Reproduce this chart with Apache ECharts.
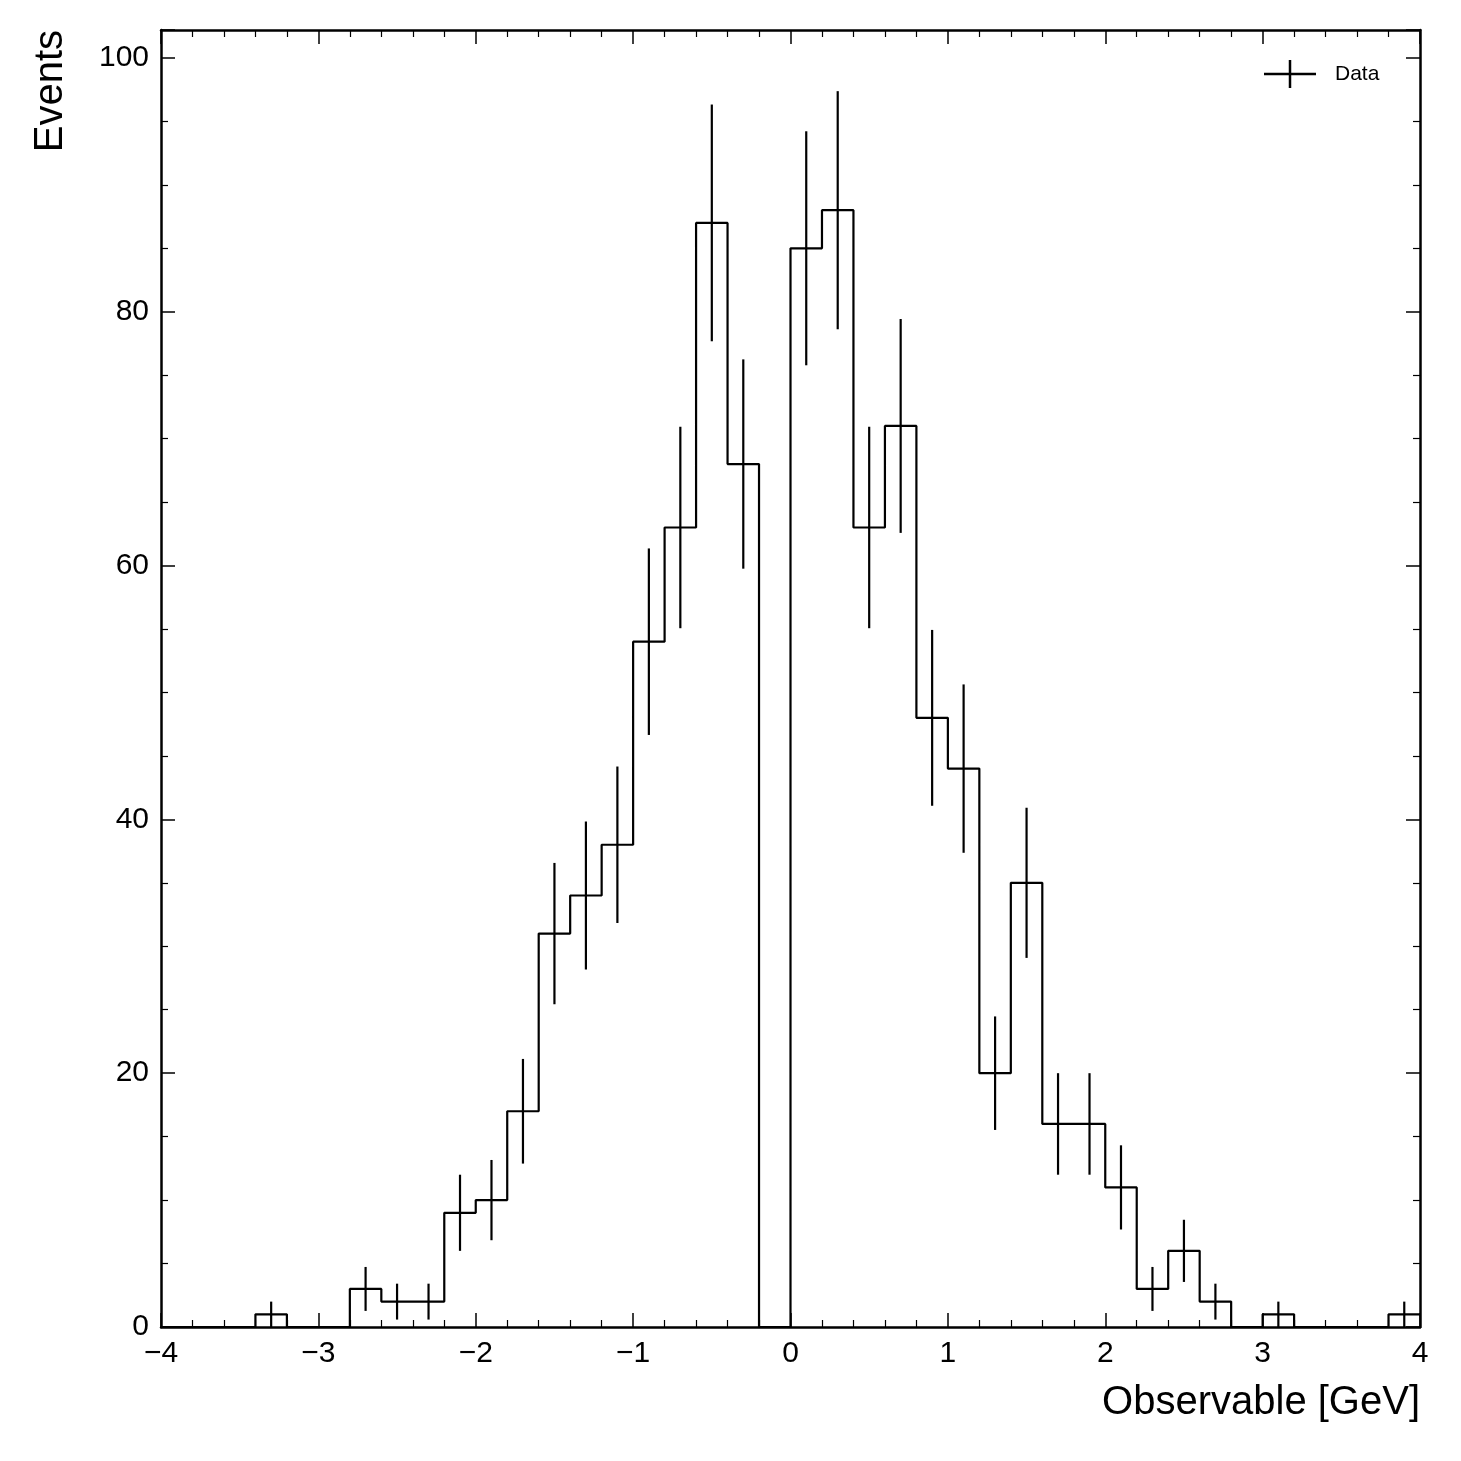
<!DOCTYPE html>
<html>
<head>
<meta charset="utf-8">
<script src="https://cdn.jsdelivr.net/npm/echarts@6/dist/echarts.min.js"></script>
<style>html,body{margin:0;padding:0;background:#fff}#main{width:1461px;height:1461px}</style>
</head>
<body>
<div id="main"></div>
<script>
// 直方图：40个bin，-4到4，宽0.2
var binLow = -4, binWidth = 0.2
var counts = [0,0,0,1,0,0,3,2,2,9,10,17,31,34,38,54,63,87,68,0,
              85,88,63,71,48,44,20,35,16,16,11,3,6,2,0,1,0,0,0,1]

// 阶梯线数据
var stepData = []
for (let i in counts) {
    stepData.push([binLow + i * binWidth, counts[i]])
}
stepData.push([binLow + counts.length * binWidth, counts[counts.length - 1]])

// 误差棒数据 [中心, 值, sqrt(N)]，零计数不画
var errData = []
for (let i in counts) {
    if (counts[i] > 0) {
        errData.push([binLow + (Number(i) + 0.5) * binWidth, counts[i], Math.sqrt(counts[i])])
    }
}

var font = 'Liberation Sans, Arial, sans-serif'
var axisLine = {show: true, onZero: false, lineStyle: {color: '#000', width: 2.5}}
var axisTick = {show: true, inside: true, length: 14, lineStyle: {color: '#000', width: 1.5}}

function minor(n) {
    return {show: true, splitNumber: n, length: 7, lineStyle: {color: '#000', width: 1.2}}
}

var myChart = echarts.init(document.getElementById('main'))
var option = {
    animation: false,
    grid: {left: 161, right: 41, top: 30, bottom: 134},
    xAxis: [
        {
            type: 'value', min: -4, max: 4, interval: 1, position: 'bottom',
            axisLine: axisLine, axisTick: axisTick, minorTick: minor(5), splitLine: {show: false},
            axisLabel: {color: '#000', fontSize: 30, fontFamily: font, margin: 12,
                formatter: function (v) { return String(v).replace('-', '\u2212') }},
            name: 'Observable [GeV]', nameLocation: 'end', nameGap: 0,
            nameTextStyle: {color: '#000', fontSize: 40, fontFamily: font, align: 'right', verticalAlign: 'top', padding: [56, 0, 0, 0]}
        },
        {
            type: 'value', min: -4, max: 4, interval: 1, position: 'top',
            axisLine: axisLine, axisTick: axisTick, minorTick: minor(5), splitLine: {show: false},
            axisLabel: {show: false}
        }
    ],
    yAxis: [
        {
            type: 'value', min: 0, max: 102.2, interval: 20, position: 'left',
            axisLine: axisLine, axisTick: axisTick, minorTick: minor(4), splitLine: {show: false},
            axisLabel: {color: '#000', fontSize: 30, fontFamily: font, margin: 12, showMaxLabel: false,
                formatter: function (v) { return v % 20 === 0 ? String(v) : '' }},
            name: 'Events', nameLocation: 'end', nameRotate: 90, nameGap: 0,
            nameTextStyle: {color: '#000', fontSize: 40, fontFamily: font, align: 'right', verticalAlign: 'bottom', padding: [0, 0, 90, 0]}
        },
        {
            type: 'value', min: 0, max: 102.2, interval: 20, position: 'right',
            axisLine: axisLine, axisTick: axisTick, minorTick: minor(4), splitLine: {show: false},
            axisLabel: {show: false}
        }
    ],
    series: [
        {
            name: 'Data', type: 'line', step: 'end', data: stepData,
            symbol: 'none', lineStyle: {color: '#000', width: 2.2}
        },
        {
            name: 'err', type: 'custom', data: errData,
            renderItem: function (params, api) {
                var top = api.coord([api.value(0), api.value(1) + api.value(2)])
                var bot = api.coord([api.value(0), api.value(1) - api.value(2)])
                return {
                    type: 'line',
                    shape: {x1: top[0], y1: top[1], x2: bot[0], y2: bot[1]},
                    style: {stroke: '#000', lineWidth: 2.2}
                }
            }
        }
    ],
    // 图例
    graphic: [
        {type: 'line', shape: {x1: 1264, y1: 74, x2: 1316, y2: 74}, style: {stroke: '#000', lineWidth: 2.5}},
        {type: 'line', shape: {x1: 1290, y1: 60, x2: 1290, y2: 88}, style: {stroke: '#000', lineWidth: 2.5}},
        {type: 'text', x: 1335, y: 74, style: {text: 'Data', fontSize: 21, fontFamily: font, fill: '#000', verticalAlign: 'middle'}}
    ]
}
myChart.setOption(option)
</script>
</body>
</html>
